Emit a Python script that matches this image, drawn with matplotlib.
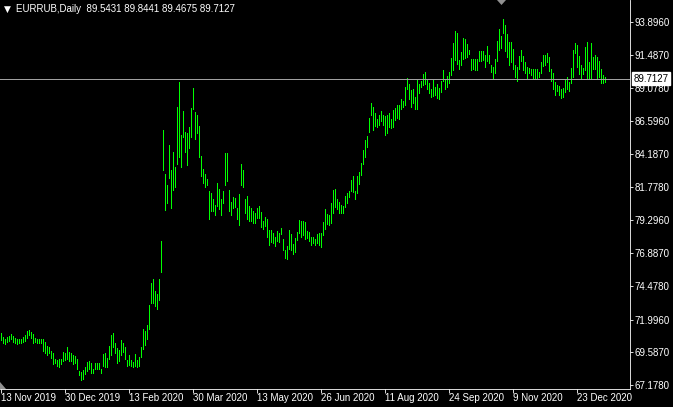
import numpy as np
import matplotlib
matplotlib.use("Agg")
import matplotlib.pyplot as plt
from matplotlib.patches import Polygon

symbol_title = "EURRUB,Daily  89.5431 89.8441 89.4675 89.7127"
last_price = 89.7127
last_price_label = "89.7127"

highs = [
    71.03, 70.74, 70.59, 70.74, 70.79, 70.93, 70.79, 70.64, 70.54, 70.59,
    70.54, 70.69, 70.88, 71.18, 71.23, 71.08, 70.93, 70.64, 70.54, 70.54,
    70.59, 70.54, 70.35, 70.05, 69.95, 69.71, 69.56, 69.12, 69.02, 69.12,
    69.12, 69.61, 69.51, 69.95, 69.61, 69.56, 69.41, 69.31, 69.07, 68.24,
    68.14, 68.28, 68.53, 68.87, 68.97, 68.78, 68.38, 68.82, 68.82, 68.82,
    68.38, 69.46,
    69.56, 69.17, 70.05, 70.83, 70.98, 70.25, 69.90, 69.75, 70.49, 70.25,
    70.00, 69.02, 69.36, 69.02, 68.87, 69.46, 69.02, 69.22, 70.00, 71.32,
    71.18, 71.57, 73.04, 74.71, 75.00, 74.12, 73.88, 75.00, 77.75,
    85.94, 82.71, 81.87, 84.82, 83.00, 84.33, 83.25, 87.66, 89.48, 85.55,
    87.37, 85.80, 85.70, 86.14, 87.56, 89.04, 87.27, 87.07, 86.24, 84.03, 83.10,
    82.71, 82.36, 81.48, 81.33, 80.89, 80.45, 82.07, 81.63, 80.89, 81.48,
    84.23, 84.28, 81.53, 80.65, 81.04, 80.94, 80.20, 81.23, 83.44, 83.00,
    80.89, 81.09, 80.35, 80.20, 80.01, 79.81, 80.20, 80.35,
    79.91, 79.27, 79.57, 79.42, 78.59, 78.59, 78.39, 78.05, 78.54, 78.34,
    78.73, 77.95, 77.12, 77.41, 78.59, 78.29, 77.56, 78.00, 78.44, 79.32,
    79.27, 79.22, 79.18, 78.54, 78.44,
    78.09, 78.09, 77.95, 78.29, 78.34, 78.39, 79.17, 80.11, 79.76, 79.71,
    80.55, 81.53, 81.63, 80.89, 80.65, 80.40, 80.35, 81.09, 81.33, 81.43,
    82.27, 82.56, 81.43, 82.56, 82.85, 83.49, 84.47, 85.21, 85.50, 86.83,
    87.91, 87.66, 87.22, 86.78, 87.02, 87.32, 87.07, 86.97, 87.07, 87.17,
    86.78, 87.42, 87.56, 87.76, 87.81, 88.20, 88.10, 89.08, 89.77, 89.33,
    88.89, 88.99, 88.35, 89.68, 89.33, 89.58, 90.07, 90.22, 89.63, 89.43,
    88.99, 89.63, 89.09, 89.33, 89.04, 89.53, 90.36, 89.63, 89.92, 90.22,
    91.25, 92.33, 93.21, 93.06, 91.10, 91.69, 92.72, 92.62, 92.28, 91.84,
    91.20, 91.15, 91.15, 91.15, 91.74, 91.79, 91.74, 91.49, 92.13, 91.49,
    90.71, 90.56, 91.15, 92.47, 93.36, 92.87, 94.09, 93.65, 93.01, 92.43,
    92.43, 91.94, 90.76, 90.61, 91.40, 91.84, 91.40, 90.96, 90.61, 90.51,
    90.42, 90.46, 90.42, 90.42, 90.22, 90.96, 91.49, 91.49, 91.64, 91.35,
    90.46, 90.12, 89.48, 89.29, 89.19,
    88.99, 89.04, 89.73, 89.88, 89.49, 90.52, 91.84, 92.38, 92.23, 91.40,
    90.71, 90.52, 92.09, 92.43, 90.96, 92.38, 91.30, 91.50, 91.30, 91.06,
    90.42, 89.98, 89.84,
]

lows = [
    70.49, 70.30, 70.20, 70.35, 70.39, 70.54, 70.35, 70.25, 70.20, 70.30,
    70.25, 70.35, 70.44, 70.64, 70.84, 70.64, 70.30, 70.35, 70.30, 70.25,
    70.25, 69.66, 69.56, 69.41, 69.51, 69.17, 68.73, 68.78, 68.58, 68.48,
    68.73, 68.92, 69.02, 69.07, 68.92, 68.97, 68.73, 68.82, 68.33, 67.89,
    67.55, 67.60, 67.99, 68.24, 68.38, 68.04, 68.04, 68.38, 68.38, 68.33,
    68.04, 68.58,
    68.53, 68.53, 69.12, 69.41, 70.00, 69.51, 68.82, 68.92, 69.36, 69.61,
    69.07, 68.58, 68.67, 68.58, 68.53, 68.58, 68.48, 68.58, 69.22, 69.80,
    70.15, 70.54, 71.32, 73.24, 73.19, 72.99, 72.80, 73.43, 75.49,
    83.00, 80.06, 80.60, 82.41, 80.20, 81.53, 81.77, 83.44, 84.00, 83.25,
    85.45, 84.33, 83.39, 84.62, 85.40, 87.47, 85.31, 85.70, 83.93, 82.56, 82.07,
    81.73, 81.87, 79.42, 80.01, 80.01, 79.71, 80.35, 80.16, 79.71, 80.55,
    81.87, 82.22, 80.01, 79.71, 80.20, 80.25, 79.37, 78.93, 81.87, 81.77,
    79.81, 79.42, 79.27, 79.22, 79.12, 79.12, 79.47, 79.47,
    78.78, 78.69, 78.88, 78.10, 77.46, 77.70, 77.61, 77.41, 77.75, 77.70,
    78.29, 77.12, 76.53, 76.43, 77.16, 77.12, 76.82, 76.97, 77.85, 78.34,
    78.10, 78.19, 77.90, 78.00, 77.80,
    77.51, 77.60, 77.51, 77.60, 77.46, 77.36, 78.24, 78.63, 79.03, 78.98,
    79.12, 79.86, 80.30, 80.11, 79.86, 79.86, 79.86, 80.30, 80.60, 80.99,
    81.43, 81.38, 80.84, 81.33, 81.97, 82.66, 83.44, 83.98, 84.67, 85.80,
    87.07, 85.94, 86.24, 86.19, 86.34, 86.63, 86.29, 85.60, 85.70, 86.19,
    86.09, 86.14, 86.68, 86.83, 86.78, 87.47, 87.66, 87.76, 88.94, 88.25,
    87.67, 87.91, 87.52, 87.47, 88.70, 89.09, 89.24, 89.33, 88.99, 88.70,
    88.35, 88.45, 88.55, 88.30, 88.25, 88.75, 89.53, 88.94, 89.09, 89.43,
    90.02, 90.36, 91.10, 90.81, 90.46, 90.76, 91.15, 91.25, 91.35, 91.54,
    90.36, 90.46, 90.36, 90.36, 91.00, 91.00, 91.10, 90.61, 91.00, 90.90,
    90.22, 89.68, 90.12, 91.05, 91.84, 91.98, 93.06, 91.74, 91.35, 90.76,
    90.96, 90.42, 89.88, 89.53, 90.46, 91.05, 90.37, 90.17, 89.68, 90.12,
    90.02, 89.68, 89.68, 89.68, 89.83, 90.12, 90.66, 90.76, 90.96, 90.27,
    89.58, 88.99, 88.50, 88.85, 88.50,
    88.30, 88.36, 88.75, 88.99, 88.80, 89.39, 89.88, 91.60, 90.61, 90.07,
    89.73, 90.07, 90.37, 89.73, 89.73, 89.68, 90.47, 90.42, 89.73, 89.88,
    89.39, 89.39, 89.47,
]

y_tick_values = [93.8960, 91.4870, 89.0780, 86.5960, 84.1870, 81.7780,
                 79.2960, 76.8870, 74.4780, 71.9960, 69.5870, 67.1780]
y_tick_labels = ["93.8960", "91.4870", "89.0780", "86.5960", "84.1870", "81.7780",
                 "79.2960", "76.8870", "74.4780", "71.9960", "69.5870", "67.1780"]
x_tick_bars = [0, 32, 64, 96, 128, 160, 192, 224, 256, 288]
x_tick_labels = ["13 Nov 2019", "30 Dec 2019", "13 Feb 2020", "30 Mar 2020",
                 "13 May 2020", "26 Jun 2020", "11 Aug 2020", "24 Sep 2020",
                 "9 Nov 2020", "23 Dec 2020"]

W, H = 673, 407
BAR_COLOR = "#00FF00"
FONT = "Liberation Sans"

fig = plt.figure(figsize=(W / 100, H / 100), dpi=100, facecolor="black")
ax = fig.add_axes([0, (H - 389) / H, 630 / W, 389 / H])
ax.set_facecolor("black")

idx = np.arange(len(highs))
ax.vlines(idx, lows, highs, color=BAR_COLOR, linewidth=0.5, antialiased=False)
ax.axhline(last_price, color="#a0a0a0", linewidth=0.5, antialiased=False)

ax.set_xlim(-0.65, 314.35)
ax.set_ylim(66.886, 95.52)

for s in ["left", "top"]:
    ax.spines[s].set_visible(False)
for s in ["right", "bottom"]:
    ax.spines[s].set_color("white")
    ax.spines[s].set_linewidth(0.6)

ax.yaxis.tick_right()
ax.set_yticks(y_tick_values)
ax.set_yticklabels(y_tick_labels, fontfamily=FONT, fontsize=7, color="white")
ax.tick_params(axis="y", direction="out", length=2, width=0.6, color="white", pad=1.5)

ax.set_xticks(x_tick_bars)
ax.set_xticklabels(x_tick_labels, fontfamily=FONT, fontsize=7, color="white", ha="left")
ax.tick_params(axis="x", direction="out", length=2.9, width=0.6, color="white", pad=0)

ax.annotate(last_price_label, xy=(1.0, last_price), xycoords=("axes fraction", "data"),
            xytext=(2.5, 0), textcoords="offset points", ha="left", va="center",
            fontfamily=FONT, fontsize=7, color="black",
            bbox=dict(boxstyle="square,pad=0.15", facecolor="white", edgecolor="white"),
            annotation_clip=False)

fig.text(16 / W, 1 - 9 / H, symbol_title, fontfamily=FONT, fontsize=7,
         color="white", ha="left", va="center")
fig.text(3.5 / W, 1 - 9 / H, "\u25BC", fontfamily="DejaVu Sans", fontsize=6.5,
         color="white", ha="left", va="center")

fig.patches.append(Polygon([(497 / W, 1.0), (506 / W, 1.0), (501.5 / W, 1 - 5 / H)],
                           closed=True, transform=fig.transFigure,
                           facecolor="#909090", edgecolor="none"))
fig.patches.append(Polygon([(0, 1 - 382 / H), (0, 1 - 389 / H), (6 / W, 1 - 389 / H)],
                           closed=True, transform=fig.transFigure,
                           facecolor="#909090", edgecolor="none"))

fig.savefig("out.png", dpi=100, facecolor="black")
